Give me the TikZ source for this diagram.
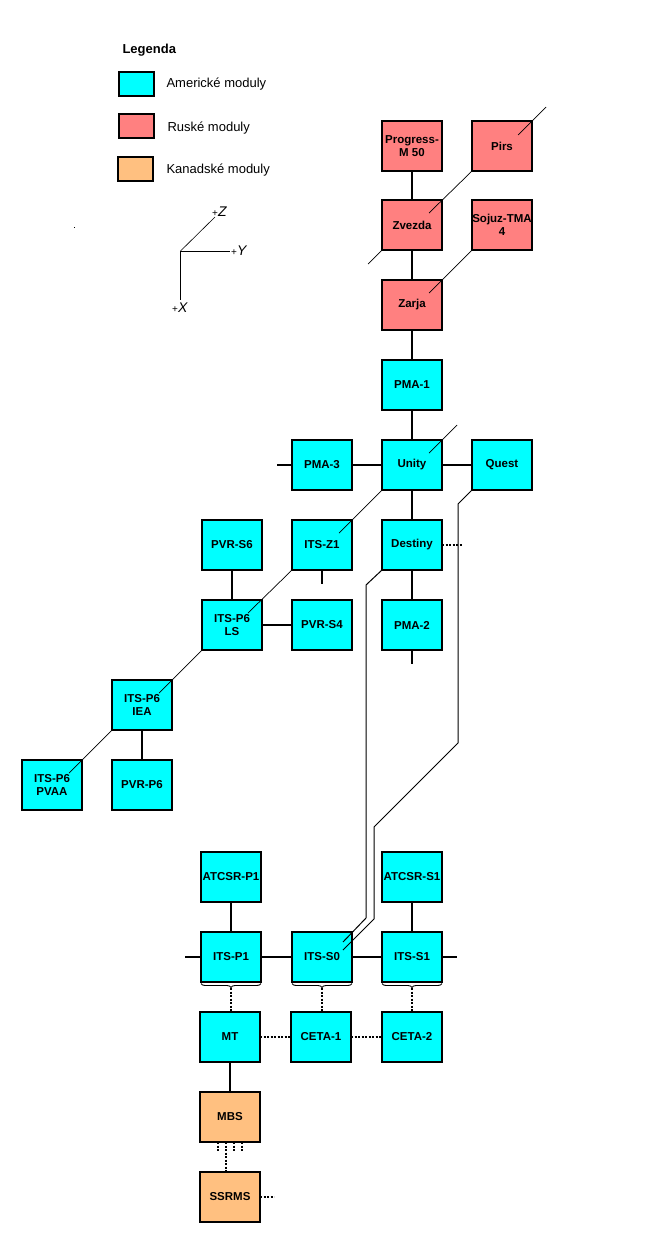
\documentclass[tikz,border=0pt]{standalone}
\usepackage{fontspec}
\setmainfont{Liberation Sans}
\usetikzlibrary{calc,decorations.pathreplacing}
\definecolor{cy}{HTML}{00FFFF}
\definecolor{ru}{HTML}{FF8080}
\definecolor{ka}{HTML}{FFC080}
\begin{document}
\begin{tikzpicture}[x=1pt,y=-1pt,
  mod/.style={draw=black,line width=1.3pt,minimum width=60pt,minimum height=50pt,
    inner sep=0pt,outer sep=0pt,align=center,
    font=\fontsize{11.5}{13.5}\selectfont\bfseries},
  am/.style={mod,fill=cy},
  rus/.style={mod,fill=ru},
  kan/.style={mod,fill=ka},
  conn/.style={line width=1.1pt},
  diag/.style={line width=0.7pt},
  dotc/.style={line width=1.1pt,dash pattern=on 2pt off 1.5pt},
  wire/.style={line width=1pt},
  lg/.style={draw=black,line width=1.3pt},
  lgt/.style={anchor=west,font=\fontsize{13}{15}\selectfont},
  axl/.style={anchor=west,inner sep=0pt},
  brc/.style={line width=0.9pt,decorate,decoration={brace,amplitude=4pt}}
]
\useasboundingbox (0,0) rectangle (655,1250);
% legend
\node[anchor=west,font=\fontsize{13}{15}\selectfont\bfseries] (legt) at (119,50) {Legenda};
\path[lg,fill=cy] (119,72) rectangle (154,96);
\path[lg,fill=ru] (119,114) rectangle (154,138);
\path[lg,fill=ka] (118,157) rectangle (153,181);
\node[lgt] (l1) at (163,84) {Americké moduly};
\node[lgt] (l2) at (164,128) {Ruské moduly};
\node[lgt] (l3) at (163,170) {Kanadské moduly};
% stray dot
\fill (73.8,227.2) rectangle (74.8,228.2);
% axes
\coordinate (o) at (180.5,251);
\coordinate (ay) at (230,251);
\coordinate (az) at (215,217);
\coordinate (ax) at (180.5,300);
\draw[line width=1pt] (o) -- (ay);
\draw[line width=1pt] (o) -- (ax);
\draw[line width=0.6pt] (o) -- (az);
\node[axl] (ly) at (231,251) {\fontsize{10}{10}\selectfont+\fontsize{14}{14}\selectfont\textit{Y}};
\node[axl] (lz) at (212,212) {\fontsize{10}{10}\selectfont+\fontsize{14}{14}\selectfont\textit{Z}};
\node[axl] (lx) at (172,308) {\fontsize{10}{10}\selectfont+\fontsize{14}{14}\selectfont\textit{X}};
% modules
\node[rus] (progress) at (412,146) {Progress-\\M 50};
\node[rus] (pirs) at (502,146) {Pirs};
\node[rus] (zvezda) at (412,225) {Zvezda};
\node[rus] (sojuz) at (502,225) {Sojuz-TMA\\4};
\node[rus] (zarja) at (412,305) {Zarja};
\node[am] (pma1) at (412,385) {PMA-1};
\node[am] (pma3) at (322,465) {PMA-3};
\node[am] (unity) at (412,465) {Unity};
\node[am] (quest) at (502,465) {Quest};
\node[am] (pvrs6) at (232,545) {PVR-S6};
\node[am] (itsz1) at (322,545) {ITS-Z1};
\node[am] (destiny) at (412,545) {Destiny};
\node[am] (ls) at (232,625) {ITS-P6\\LS};
\node[am] (pvrs4) at (322,625) {PVR-S4};
\node[am] (pma2) at (412,625) {PMA-2};
\node[am] (iea) at (142,705) {ITS-P6\\IEA};
\node[am] (pvaa) at (52,785) {ITS-P6\\PVAA};
\node[am] (pvrp6) at (142,785) {PVR-P6};
\node[am] (atcsrp1) at (231,877) {ATCSR-P1};
\node[am] (atcsrs1) at (412,877) {ATCSR-S1};
\node[am] (itsp1) at (231,957) {ITS-P1};
\node[am] (itss0) at (322,957) {ITS-S0};
\node[am] (itss1) at (412,957) {ITS-S1};
\node[am] (mt) at (230,1037) {MT};
\node[am] (ceta1) at (321,1037) {CETA-1};
\node[am] (ceta2) at (412,1037) {CETA-2};
\node[kan] (mbs) at (230,1117) {MBS};
\node[kan] (ssrms) at (230,1197) {SSRMS};
% solid connectors
\draw[conn] (progress) -- (zvezda);
\draw[conn] (zvezda) -- (zarja);
\draw[conn] (zarja) -- (pma1);
\draw[conn] (pma1) -- (unity);
\draw[conn] (unity) -- (destiny);
\draw[conn] (destiny) -- (pma2);
\draw[conn] (pma2.south) -- +(0,14);
\draw[conn] (pma3) -- (unity);
\draw[conn] (pma3.west) -- +(-15,0);
\draw[conn] (unity) -- (quest);
\draw[conn] (itsz1.south) -- +(0,14);
\draw[conn] (pvrs6) -- (ls);
\draw[conn] (ls) -- (pvrs4);
\draw[conn] (iea) -- (pvrp6);
\draw[conn] (atcsrp1) -- (itsp1);
\draw[conn] (atcsrs1) -- (itss1);
\draw[conn] (itsp1.west) -- +(-16,0);
\draw[conn] (itsp1) -- (itss0);
\draw[conn] (itss0) -- (itss1);
\draw[conn] (itss1.east) -- +(15,0);
\draw[conn] (mt) -- (mbs);
% dotted connectors
\draw[dotc] (destiny.east) -- +(21,0);
\draw[dotc] (mt) -- (ceta1);
\draw[dotc] (ceta1) -- (ceta2);
\draw[dotc] (ssrms.east) -- +(14,0);
\draw[dotc] ($(mbs.south)+(-4,0)$) -- ($(ssrms.north)+(-4,0)$);
\draw[dotc] ($(mbs.south)+(-12,0)$) -- +(0,10);
\draw[dotc] ($(mbs.south)+(4,0)$) -- +(0,10);
\draw[dotc] ($(mbs.south)+(12,0)$) -- +(0,10);
% braces
\draw[brc] ($(itsp1.south east)+(0,1.5)$) -- ($(itsp1.south west)+(0,1.5)$);
\draw[brc] ($(itss0.south east)+(0,1.5)$) -- ($(itss0.south west)+(0,1.5)$);
\draw[brc] ($(itss1.south east)+(0,1.5)$) -- ($(itss1.south west)+(0,1.5)$);
\draw[dotc] ($(itsp1.south)+(0,6)$) -- (mt.north -| itsp1.south);
\draw[dotc] ($(itss0.south)+(0,6)$) -- (ceta1.north -| itss0.south);
\draw[dotc] ($(itss1.south)+(0,6)$) -- (ceta2.north -| itss1.south);
% diagonal (z-direction) connectors
\draw[diag] ($(pirs.north east)+(-14,14)$) -- +(28,-28);
\draw[diag] (pirs.south west) -- ($(zvezda.north east)+(-13,13)$);
\draw[diag] (zvezda.south west) -- +(-14,14);
\draw[diag] (sojuz.south west) -- ($(zarja.north east)+(-13,13)$);
\draw[diag] ($(unity.north east)+(-13,13)$) -- +(28,-28);
\draw[diag] (unity.south west) -- ($(itsz1.north east)+(-13,13)$);
\draw[diag] (itsz1.south west) -- ($(ls.north east)+(-14,13)$);
\draw[diag] (ls.south west) -- ($(iea.north east)+(-13,13)$);
\draw[diag] (iea.south west) -- ($(pvaa.north east)+(-13,13)$);
% long wires to ITS-S0
\draw[wire] (destiny.south west) -- (366,585) -- (366,918) -- ($(itss0.north east)+(-9,10)$);
\draw[wire] (quest.south west) -- (458,504) -- (458,743) -- (374,827) -- (374,919) -- ($(itss0.north east)+(-9,18)$);
\end{tikzpicture}
\end{document}
